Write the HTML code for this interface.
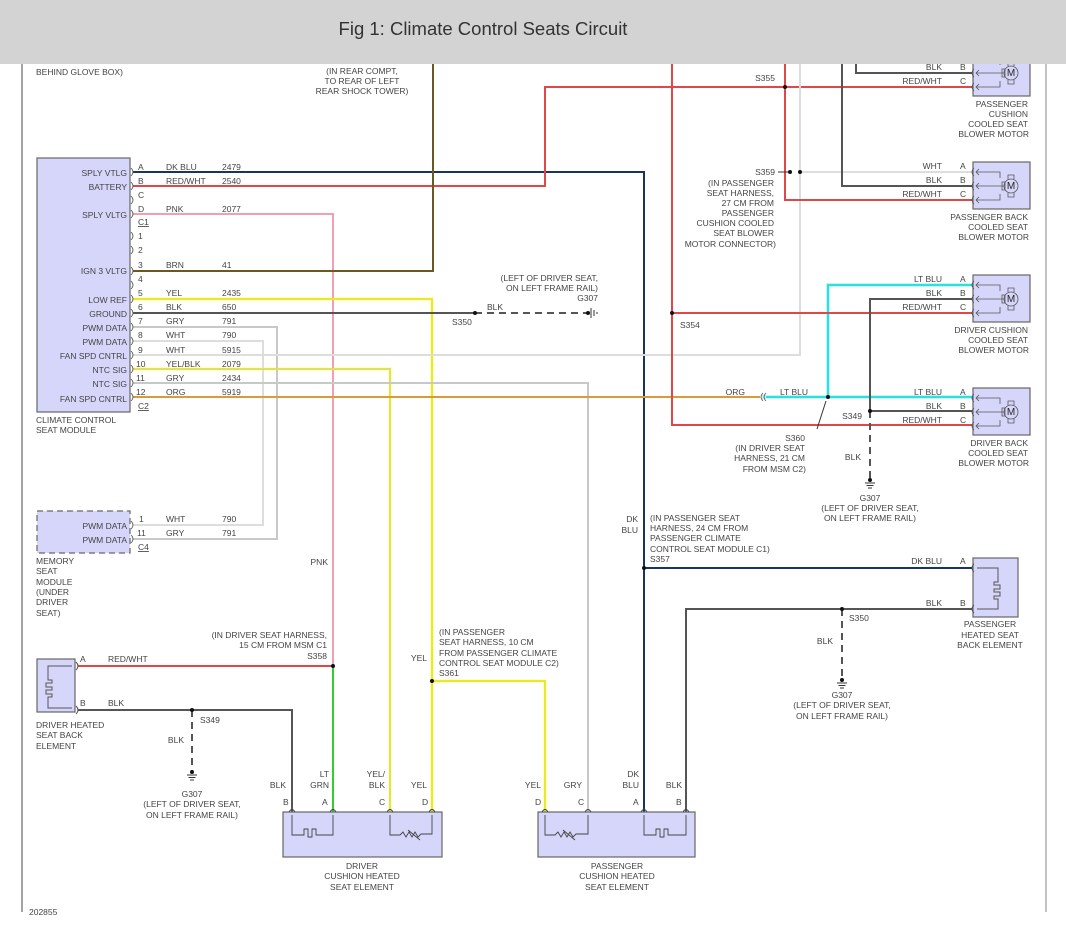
<!DOCTYPE html>
<html><head><meta charset="utf-8"><style>
html,body{margin:0;padding:0;background:#fff;width:1066px;height:936px;overflow:hidden}
svg{display:block}
text{font-family:"Liberation Sans",sans-serif;font-size:8.5px;fill:#444}
.r{text-anchor:end}.m{text-anchor:middle}
</style></head><body>
<svg width="1066" height="936" viewBox="0 0 1066 936" xmlns="http://www.w3.org/2000/svg">
<defs>
<g id="gd" stroke="#333" stroke-width="1"><line x1="-5" y1="3" x2="5" y2="3"/><line x1="-3.5" y1="5.5" x2="3.5" y2="5.5"/><line x1="-2" y1="8" x2="2" y2="8"/></g>
<g id="mot">
<rect x="973" y="0" width="57" height="47" fill="#d6d6fb" stroke="#666" stroke-width="1.2"/>
<g fill="none" stroke="#555" stroke-width="0.8">
<path d="M974,6 q-4,4 0,8 M974,20 q-4,4 0,8 M974,34 q-4,4 0,8"/>
<path d="M976,10 H1000 V16 M976,24 H1004 M976,38 H1000 V32"/>
<path d="M979,7 l-3,3 l3,3 M979,21 l-3,3 l3,3 M979,35 l-3,3 l3,3"/>
<circle cx="1011" cy="24" r="7" fill="#d6d6fb"/>
<rect x="1002" y="20" width="3" height="8"/>
<path d="M1008,17 v-4 h6 v4 M1008,31 v4 h6 v-4"/>
</g>
<text x="1011" y="27" class="m" style="font-size:10px;fill:#222">M</text>
</g>
</defs>
<line x1="22" y1="64" x2="22" y2="912" stroke="#666" stroke-width="1.2"/>
<line x1="1046" y1="64" x2="1046" y2="912" stroke="#999" stroke-width="1.2"/>

<g fill="none" stroke-width="2">
<g stroke-opacity="0.25" stroke-width="4">
<polyline points="133,299 432,299 432,812" stroke="#ff0"/>
<polyline points="133,369 390,369 390,812" stroke="#ff0"/>
<polyline points="432,681 545,681 545,812" stroke="#ff0"/>
<polyline points="762,397 1000,397" stroke="#0dd"/>
<polyline points="828,397 828,285 1000,285" stroke="#0dd"/>
</g>
<polyline points="133,172 644,172 644,812" stroke="#1a3366"/>
<polyline points="133,186 545,186 545,87 1000,87" stroke="#e04848"/>
<polyline points="133,214 333,214 333,666" stroke="#f0a0b0"/>
<polyline points="133,271 433,271 433,64" stroke="#6b5a20"/>
<polyline points="133,299 432,299 432,812" stroke="#e8e830"/>
<polyline points="133,313 475,313" stroke="#555"/>
<polyline points="475,313 588,313" stroke="#555" stroke-dasharray="7,5"/>
<polyline points="133,327 277,327 277,539 133,539" stroke="#c8c8c8"/>
<polyline points="133,341 263,341 263,525 133,525" stroke="#ddd"/>
<polyline points="133,355 800,355 800,64" stroke="#ddd"/>
<polyline points="800,172 1000,172" stroke="#ddd"/>
<polyline points="133,369 390,369 390,812" stroke="#e0e060"/>
<polyline points="133,383 588,383 588,812" stroke="#c8c8c8"/>
<polyline points="133,397 760,397" stroke="#d89a3a"/>
<polyline points="766,397 1000,397" stroke="#30dede"/>
<polyline points="828,397 828,285 1000,285" stroke="#30dede"/>
<polyline points="672,64 672,425 1000,425" stroke="#e04848"/>
<polyline points="672,313 1000,313" stroke="#e04848"/>
<polyline points="785,64 785,200 1000,200" stroke="#e04848"/>
<polyline points="856,64 856,73 1000,73" stroke="#555"/>
<polyline points="842,64 842,186 1000,186" stroke="#555"/>
<polyline points="1000,299 870,299 870,411" stroke="#555"/>
<polyline points="870,411 1000,411" stroke="#555"/>
<polyline points="870,411 870,480" stroke="#555" stroke-dasharray="7,5"/>
<polyline points="644,568 975,568" stroke="#1a3366"/>
<polyline points="686,812 686,609 975,609" stroke="#555"/>
<polyline points="842,609 842,680" stroke="#555" stroke-dasharray="7,5"/>
<polyline points="78,666 333,666" stroke="#e04848"/>
<polyline points="333,666 333,812" stroke="#3c3"/>
<polyline points="432,681 545,681 545,812" stroke="#e8e830"/>
<polyline points="78,710 292,710 292,812" stroke="#555"/>
<polyline points="192,710 192,772" stroke="#555" stroke-dasharray="7,5"/>
</g>
<g fill="#111">
<circle cx="475" cy="313" r="2"/><circle cx="588" cy="313" r="2"/>
<circle cx="672" cy="313" r="2"/><circle cx="785" cy="87" r="2"/>
<circle cx="790" cy="172" r="2"/><circle cx="800" cy="172" r="2"/>
<circle cx="828" cy="397" r="2"/><circle cx="870" cy="411" r="2"/>
<circle cx="870" cy="480" r="2"/><circle cx="644" cy="568" r="2"/>
<circle cx="842" cy="609" r="2"/><circle cx="842" cy="680" r="2"/>
<circle cx="333" cy="666" r="2"/><circle cx="432" cy="681" r="2"/>
<circle cx="192" cy="710" r="2"/><circle cx="192" cy="772" r="2"/>
</g>
<line x1="778" y1="172" x2="788" y2="172" stroke="#333"/>
<line x1="817" y1="429" x2="826" y2="401" stroke="#333"/>
<g stroke="#333" stroke-width="1">
<line x1="591" y1="308" x2="591" y2="318"/><line x1="594" y1="310" x2="594" y2="316"/><line x1="597" y1="312" x2="597" y2="314"/>
</g>
<use href="#gd" x="870" y="480"/><use href="#gd" x="842" y="680"/><use href="#gd" x="192" y="772"/>
<g fill="none" stroke="#555" stroke-width="0.8">
<path d="M131,168 q4,4 0,8 M131,182 q4,4 0,8 M131,196 q4,4 0,8 M131,210 q4,4 0,8 M131,232 q4,4 0,8 M131,246 q4,4 0,8 M131,267 q4,4 0,8 M131,281 q4,4 0,8 M131,295 q4,4 0,8 M131,309 q4,4 0,8 M131,323 q4,4 0,8 M131,337 q4,4 0,8 M131,351 q4,4 0,8 M131,365 q4,4 0,8 M131,379 q4,4 0,8 M131,393 q4,4 0,8 M131,521 q4,4 0,8 M131,535 q4,4 0,8"/>
<path d="M763,393 q-4,4 0,8 M766,393 q-4,4 0,8"/>
</g>
<rect x="37" y="158" width="93" height="254" fill="#d6d6fb" stroke="#666" stroke-width="1.2"/>
<rect x="37" y="511" width="93" height="42" fill="#d6d6fb" stroke="#666" stroke-width="1.2" stroke-dasharray="6,4"/>
<use href="#mot" y="49"/><use href="#mot" y="162"/><use href="#mot" y="275"/><use href="#mot" y="388"/>
<rect x="37" y="659" width="38" height="53" fill="#d6d6fb" stroke="#666" stroke-width="1.2"/>
<path d="M72,666 H48 V680 h4 v3 h-6 v4 h6 v3 h-6 v4 h6 v3 h-4 V708 H72" fill="none" stroke="#555"/>
<path d="M76,662 q4,4 0,8 M76,706 q4,4 0,8" fill="none" stroke="#555"/>
<rect x="973" y="558" width="45" height="59" fill="#d6d6fb" stroke="#666" stroke-width="1.2"/>
<path d="M977,568 H998 V582 h-4 v3 h6 v4 h-6 v3 h6 v4 h-6 v3 h4 V609 H977" fill="none" stroke="#555"/>
<path d="M974,564 q-4,4 0,8 M974,605 q-4,4 0,8" fill="none" stroke="#555"/>
<rect x="283" y="812" width="159" height="45" fill="#d6d6fb" stroke="#666" stroke-width="1.2"/>
<rect x="538" y="812" width="157" height="45" fill="#d6d6fb" stroke="#666" stroke-width="1.2"/>
<g fill="none" stroke="#444" stroke-width="0.9">
<path d="M292,815 V835 H304 v-6 h4 v8 h4 v-8 h4 v6 H333 V815"/>
<path d="M390,815 V835 H400 l3,-3 3,5 3,-5 3,5 3,-5 3,5 3,-3 H432 V815 M408,830 l12,10"/>
<path d="M545,815 V835 H555 l3,-3 3,5 3,-5 3,5 3,-5 3,5 3,-3 H588 V815 M563,830 l12,10"/>
<path d="M644,815 V835 H656 v-6 h4 v8 h4 v-8 h4 v6 H686 V815"/>
<path d="M289,812 q3,-5 6,0 M330,812 q3,-5 6,0 M387,812 q3,-5 6,0 M429,812 q3,-5 6,0 M542,812 q3,-5 6,0 M585,812 q3,-5 6,0 M641,812 q3,-5 6,0 M683,812 q3,-5 6,0"/>
</g>

<g>
<text x="127" y="176" class="r">SPLY VTLG</text><text x="127" y="190" class="r">BATTERY</text>
<text x="127" y="218" class="r">SPLY VLTG</text><text x="127" y="274" class="r">IGN 3 VLTG</text>
<text x="127" y="303" class="r">LOW REF</text><text x="127" y="317" class="r">GROUND</text>
<text x="127" y="331" class="r">PWM DATA</text><text x="127" y="345" class="r">PWM DATA</text>
<text x="127" y="359" class="r">FAN SPD CNTRL</text><text x="127" y="373" class="r">NTC SIG</text>
<text x="127" y="387" class="r">NTC SIG</text><text x="127" y="402" class="r">FAN SPD CNTRL</text>
<text x="138" y="170">A</text><text x="166" y="170">DK BLU</text><text x="222" y="170">2479</text>
<text x="138" y="184">B</text><text x="166" y="184">RED/WHT</text><text x="222" y="184">2540</text>
<text x="138" y="198">C</text>
<text x="138" y="212">D</text><text x="166" y="212">PNK</text><text x="222" y="212">2077</text>
<text x="138" y="225" text-decoration="underline">C1</text>
<text x="138" y="239">1</text><text x="138" y="253">2</text>
<text x="138" y="268">3</text><text x="166" y="268">BRN</text><text x="222" y="268">41</text>
<text x="138" y="282">4</text>
<text x="138" y="296">5</text><text x="166" y="296">YEL</text><text x="222" y="296">2435</text>
<text x="138" y="310">6</text><text x="166" y="310">BLK</text><text x="222" y="310">650</text>
<text x="138" y="324">7</text><text x="166" y="324">GRY</text><text x="222" y="324">791</text>
<text x="138" y="338">8</text><text x="166" y="338">WHT</text><text x="222" y="338">790</text>
<text x="138" y="353">9</text><text x="166" y="353">WHT</text><text x="222" y="353">5915</text>
<text x="136" y="367">10</text><text x="166" y="367">YEL/BLK</text><text x="222" y="367">2079</text>
<text x="136" y="381">11</text><text x="166" y="381">GRY</text><text x="222" y="381">2434</text>
<text x="136" y="395">12</text><text x="166" y="395">ORG</text><text x="222" y="395">5919</text>
<text x="138" y="409" text-decoration="underline">C2</text>
<text x="36" y="423">CLIMATE CONTROL</text><text x="36" y="433">SEAT MODULE</text>
<text x="36" y="75">BEHIND GLOVE BOX)</text>
<text x="362" y="74" class="m">(IN REAR COMPT,</text><text x="362" y="84" class="m">TO REAR OF LEFT</text><text x="362" y="94" class="m">REAR SHOCK TOWER)</text>
<text x="127" y="529" class="r">PWM DATA</text><text x="127" y="543" class="r">PWM DATA</text>
<text x="139" y="522">1</text><text x="166" y="522">WHT</text><text x="222" y="522">790</text>
<text x="137" y="536">11</text><text x="166" y="536">GRY</text><text x="222" y="536">791</text>
<text x="138" y="550" text-decoration="underline">C4</text>
<text x="36" y="564">MEMORY</text><text x="36" y="574">SEAT</text><text x="36" y="585">MODULE</text><text x="36" y="595">(UNDER</text><text x="36" y="605">DRIVER</text><text x="36" y="616">SEAT)</text>
<text x="328" y="565" class="r">PNK</text>
<text x="598" y="281" class="r">(LEFT OF DRIVER SEAT,</text><text x="598" y="291" class="r">ON LEFT FRAME RAIL)</text><text x="598" y="301" class="r">G307</text>
<text x="487" y="310">BLK</text><text x="452" y="325">S350</text>
<text x="680" y="328">S354</text>
<text x="775" y="81" class="r">S355</text>
<text x="775" y="175" class="r">S359</text>
<text x="774" y="186" class="r">(IN PASSENGER</text><text x="774" y="196" class="r">SEAT HARNESS,</text><text x="774" y="206" class="r">27 CM FROM</text><text x="774" y="216" class="r">PASSENGER</text><text x="774" y="226" class="r">CUSHION COOLED</text><text x="774" y="236" class="r">SEAT BLOWER</text><text x="776" y="247" class="r">MOTOR CONNECTOR)</text>
<text x="942" y="70" class="r">BLK</text><text x="960" y="70">B</text>
<text x="942" y="84" class="r">RED/WHT</text><text x="960" y="84">C</text>
<text x="1028" y="107" class="r">PASSENGER</text><text x="1028" y="117" class="r">CUSHION</text><text x="1028" y="127" class="r">COOLED SEAT</text><text x="1029" y="137" class="r">BLOWER MOTOR</text>
<text x="942" y="169" class="r">WHT</text><text x="960" y="169">A</text>
<text x="942" y="183" class="r">BLK</text><text x="960" y="183">B</text>
<text x="942" y="197" class="r">RED/WHT</text><text x="960" y="197">C</text>
<text x="1028" y="220" class="r">PASSENGER BACK</text><text x="1028" y="230" class="r">COOLED SEAT</text><text x="1029" y="240" class="r">BLOWER MOTOR</text>
<text x="942" y="282" class="r">LT BLU</text><text x="960" y="282">A</text>
<text x="942" y="296" class="r">BLK</text><text x="960" y="296">B</text>
<text x="942" y="310" class="r">RED/WHT</text><text x="960" y="310">C</text>
<text x="1028" y="333" class="r">DRIVER CUSHION</text><text x="1028" y="343" class="r">COOLED SEAT</text><text x="1029" y="353" class="r">BLOWER MOTOR</text>
<text x="942" y="395" class="r">LT BLU</text><text x="960" y="395">A</text>
<text x="942" y="409" class="r">BLK</text><text x="960" y="409">B</text>
<text x="942" y="423" class="r">RED/WHT</text><text x="960" y="423">C</text>
<text x="1028" y="446" class="r">DRIVER BACK</text><text x="1028" y="456" class="r">COOLED SEAT</text><text x="1029" y="466" class="r">BLOWER MOTOR</text>
<text x="745" y="395" class="r">ORG</text><text x="808" y="395" class="r">LT BLU</text>
<text x="862" y="419" class="r">S349</text>
<text x="805" y="441" class="r">S360</text><text x="805" y="451" class="r">(IN DRIVER SEAT</text><text x="805" y="461" class="r">HARNESS, 21 CM</text><text x="806" y="472" class="r">FROM MSM C2)</text>
<text x="861" y="460" class="r">BLK</text>
<text x="870" y="501" class="m">G307</text><text x="870" y="511" class="m">(LEFT OF DRIVER SEAT,</text><text x="870" y="521" class="m">ON LEFT FRAME RAIL)</text>
<text x="638" y="522" class="r">DK</text><text x="638" y="533" class="r">BLU</text>
<text x="650" y="521">(IN PASSENGER SEAT</text><text x="650" y="531">HARNESS, 24 CM FROM</text><text x="650" y="541">PASSENGER CLIMATE</text><text x="650" y="552">CONTROL SEAT MODULE C1)</text>
<text x="650" y="562">S357</text>
<text x="942" y="564" class="r">DK BLU</text><text x="960" y="564">A</text>
<text x="942" y="606" class="r">BLK</text><text x="960" y="606">B</text>
<text x="990" y="627" class="m">PASSENGER</text><text x="990" y="638" class="m">HEATED SEAT</text><text x="990" y="648" class="m">BACK ELEMENT</text>
<text x="849" y="621">S350</text><text x="833" y="644" class="r">BLK</text>
<text x="842" y="698" class="m">G307</text><text x="842" y="708" class="m">(LEFT OF DRIVER SEAT,</text><text x="842" y="719" class="m">ON LEFT FRAME RAIL)</text>
<text x="327" y="638" class="r">(IN DRIVER SEAT HARNESS,</text><text x="327" y="648" class="r">15 CM FROM MSM C1</text><text x="327" y="659" class="r">S358</text>
<text x="439" y="635">(IN PASSENGER</text><text x="439" y="645">SEAT HARNESS, 10 CM</text><text x="439" y="656">FROM PASSENGER CLIMATE</text><text x="439" y="666">CONTROL SEAT MODULE C2)</text><text x="439" y="676">S361</text>
<text x="427" y="661" class="r">YEL</text>
<text x="80" y="662">A</text><text x="108" y="662">RED/WHT</text>
<text x="80" y="706">B</text><text x="108" y="706">BLK</text>
<text x="200" y="723">S349</text><text x="184" y="743" class="r">BLK</text>
<text x="36" y="728">DRIVER HEATED</text><text x="36" y="738">SEAT BACK</text><text x="36" y="749">ELEMENT</text>
<text x="192" y="797" class="m">G307</text><text x="192" y="807" class="m">(LEFT OF DRIVER SEAT,</text><text x="192" y="818" class="m">ON LEFT FRAME RAIL)</text>
<text x="286" y="788" class="r">BLK</text>
<text x="329" y="777" class="r">LT</text><text x="329" y="788" class="r">GRN</text>
<text x="385" y="777" class="r">YEL/</text><text x="385" y="788" class="r">BLK</text>
<text x="427" y="788" class="r">YEL</text>
<text x="283" y="805">B</text><text x="322" y="805">A</text><text x="379" y="805">C</text><text x="422" y="805">D</text>
<text x="541" y="788" class="r">YEL</text><text x="582" y="788" class="r">GRY</text>
<text x="639" y="777" class="r">DK</text><text x="639" y="788" class="r">BLU</text>
<text x="682" y="788" class="r">BLK</text>
<text x="535" y="805">D</text><text x="578" y="805">C</text><text x="633" y="805">A</text><text x="676" y="805">B</text>
<text x="362" y="869" class="m">DRIVER</text><text x="362" y="879" class="m">CUSHION HEATED</text><text x="362" y="890" class="m">SEAT ELEMENT</text>
<text x="617" y="869" class="m">PASSENGER</text><text x="617" y="879" class="m">CUSHION HEATED</text><text x="617" y="890" class="m">SEAT ELEMENT</text>
<text x="29" y="915">202855</text>
</g>
<rect x="0" y="0" width="1066" height="64" fill="#d3d3d3"/>
<text x="483" y="35" class="m" style="font-size:18.5px;fill:#333">Fig 1: Climate Control Seats Circuit</text>
</svg>
</body></html>
